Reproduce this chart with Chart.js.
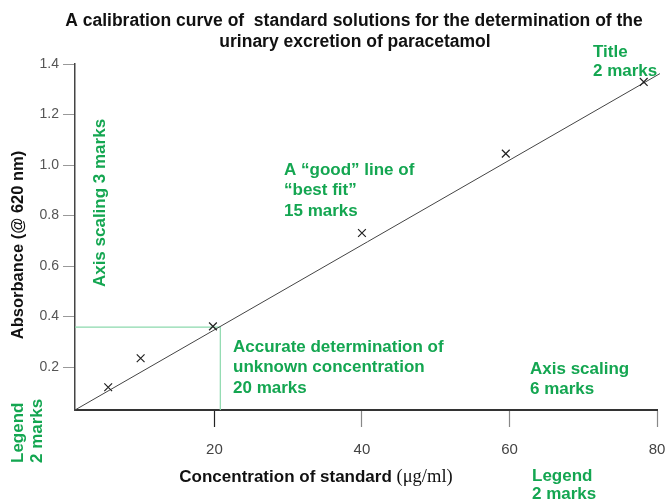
<!DOCTYPE html>
<html><head><meta charset="utf-8">
<script src="https://cdn.jsdelivr.net/npm/chart.js@4.4.1/dist/chart.umd.min.js"></script>
<style>html,body{margin:0;padding:0;background:#fff;overflow:hidden}canvas{display:block}</style>
</head><body>
<canvas id="c" width="666" height="501"></canvas>
<script>
// ---- data ----
const concentration = [5.6, 10.0, 19.8, 40.0, 59.5, 78.2];      // µg/ml
const absorbance    = [0.120, 0.235, 0.361, 0.731, 1.045, 1.329]; // @ 620 nm
const fitX = [1.1, 80.4];      // hand-drawn line of best fit, end points
const fitY = [0.03, 1.362];
const unknownX = 20.8;         // read-off of the unknown sample
const unknownY = 0.358;
const xTicks = [20, 40, 60, 80];
const yTicks = [0.2, 0.4, 0.6, 0.8, 1.0, 1.2, 1.4];
const xRange = [1.1, 80];
const yRange = [0.03, 1.4];

const titleLines = ['A calibration curve of  standard solutions for the determination of the',
                    'urinary excretion of paracetamol'];
const xTitleMain = 'Concentration of standard ';
const xTitleUnit = '(\u03bcg/ml)';
const yTitle = 'Absorbance (@ 620 nm)';

const GREEN = '#14a651';
const GREEN_LINE = '#8cd9ad';
const SANS = '"Liberation Sans", Arial, sans-serif';
const SERIF = '"Liberation Serif", "Times New Roman", serif';
const AREA = { left: 75, right: 657, top: 64, bottom: 410 };

const textPlugin = {
  id: 'texts',
  afterDraw(chart) {
    const ctx = chart.ctx;
    ctx.save();
    ctx.textBaseline = 'middle';
    // title
    ctx.fillStyle = '#111';
    ctx.font = 'bold 17.5px ' + SANS;
    ctx.textAlign = 'center';
    ctx.fillText(titleLines[0], 354, 21);
    ctx.fillText(titleLines[1], 355, 42);
    // y title
    ctx.save();
    ctx.translate(18, 245);
    ctx.rotate(-Math.PI / 2);
    ctx.font = 'bold 16.5px ' + SANS;
    ctx.fillText(yTitle, 0, 0);
    ctx.restore();
    // x title (mixed fonts)
    ctx.textAlign = 'left';
    const f1 = 'bold 17px ' + SANS, f2 = '18.5px ' + SERIF;
    ctx.font = f1;
    const w1 = ctx.measureText(xTitleMain).width;
    ctx.font = f2;
    const w2 = ctx.measureText(xTitleUnit).width;
    const x0 = 316 - (w1 + w2) / 2;
    ctx.font = f1;
    ctx.fillText(xTitleMain, x0, 477);
    ctx.font = f2;
    ctx.fillText(xTitleUnit, x0 + w1, 477);

    // green marking annotations
    ctx.fillStyle = GREEN;
    ctx.font = 'bold 17px ' + SANS;
    ctx.textAlign = 'left';
    const block = (lines, x, y, lh) => lines.forEach((t, i) => ctx.fillText(t, x, y + i * lh));
    block(['Title', '2 marks'], 593, 52, 19);
    block(['A \u201cgood\u201d line of', '\u201cbest fit\u201d', '15 marks'], 284, 170, 20.5);
    block(['Accurate determination of', 'unknown concentration', '20 marks'], 233, 347, 20.7);
    block(['Axis scaling', '6 marks'], 530, 369, 20);
    block(['Legend', '2 marks'], 532, 476, 18);
    // rotated
    ctx.save();
    ctx.translate(100, 203);
    ctx.rotate(-Math.PI / 2);
    ctx.textAlign = 'center';
    ctx.fillText('Axis scaling 3 marks', 0, 0);
    ctx.restore();
    ctx.save();
    ctx.translate(0, 463);
    ctx.rotate(-Math.PI / 2);
    ctx.textAlign = 'left';
    ctx.fillText('Legend', 0, 18);
    ctx.fillText('2 marks', 0, 37);
    ctx.restore();
    ctx.restore();
  }
};

const chart = new Chart(document.getElementById('c'), {
  type: 'scatter',
  data: {
    datasets: [
      {
        type: 'line',
        data: [{x: xRange[0], y: unknownY}, {x: unknownX, y: unknownY}, {x: unknownX, y: yRange[0]}],
        borderColor: GREEN_LINE, borderWidth: 1.2, pointRadius: 0, fill: false, tension: 0, order: 3
      },
      {
        type: 'line',
        data: fitX.map((x, i) => ({x, y: fitY[i]})),
        borderColor: '#444', borderWidth: 1, pointRadius: 0, fill: false, tension: 0, clip: false, order: 2
      },
      {
        data: concentration.map((x, i) => ({x, y: absorbance[i]})),
        pointStyle: 'crossRot', pointRadius: 5.5, borderColor: '#222', borderWidth: 1.2,
        backgroundColor: '#222', order: 1
      }
    ]
  },
  options: {
    responsive: false, animation: false, devicePixelRatio: 1,
    layout: { autoPadding: false, padding: { top: AREA.top, right: 666 - AREA.right, bottom: 0, left: 0 } },
    plugins: { legend: { display: false }, title: { display: false }, tooltip: { enabled: false } },
    scales: {
      x: {
        type: 'linear', min: xRange[0], max: xRange[1],
        afterBuildTicks: s => { s.ticks = xTicks.map(v => ({value: v})); },
        afterFit: s => { s.height = 501 - AREA.bottom; s.paddingLeft = 0; s.paddingRight = 0; },
        border: { color: '#333', width: 2 },
        grid: { drawOnChartArea: false, tickLength: 17, tickColor: c => c.index === 0 ? '#222' : '#888', tickWidth: 1.2 },
        ticks: { color: '#444', font: { family: SANS, size: 15 }, padding: 14, maxRotation: 0 }
      },
      y: {
        type: 'linear', min: yRange[0], max: yRange[1],
        afterBuildTicks: s => { s.ticks = yTicks.map(v => ({value: v})); },
        afterFit: s => { s.width = AREA.left; s.paddingTop = 0; s.paddingBottom = 0; },
        border: { color: '#444', width: 1.5 },
        grid: { drawOnChartArea: false, tickLength: 12, tickColor: '#999', tickWidth: 1 },
        ticks: { color: '#555', font: { family: SANS, size: 14 }, padding: 4,
                 callback: v => v.toFixed(1) }
      }
    }
  },
  plugins: [textPlugin]
});

// nudge the layout padding so the plot area lands exactly where the reference has it
for (let i = 0; i < 3; i++) {
  const a = chart.chartArea, p = chart.options.layout.padding;
  const dr = AREA.right - a.right, dl = a.left - AREA.left, dt = a.top - AREA.top, db = AREA.bottom - a.bottom;
  if (!dr && !dl && !dt && !db) break;
  p.right -= dr; p.left -= dl; p.top -= dt; p.bottom -= db;
  chart.update();
}
</script>
</body></html>
